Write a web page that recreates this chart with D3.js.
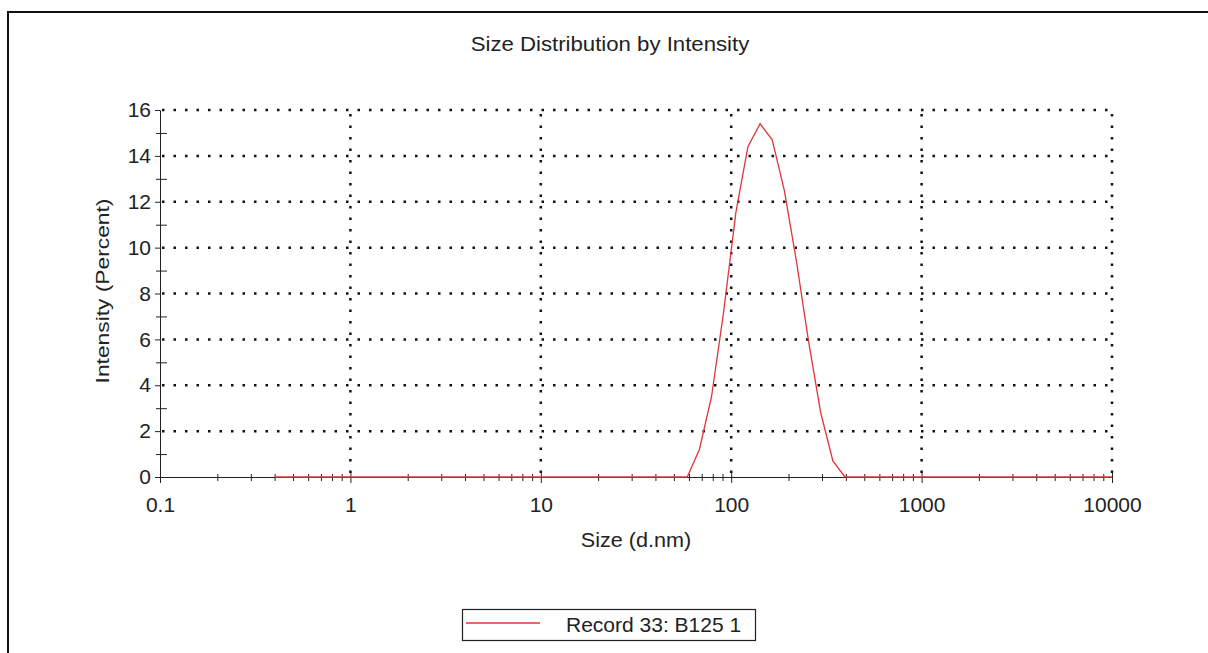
<!DOCTYPE html>
<html>
<head>
<meta charset="utf-8">
<script src="https://cdn.jsdelivr.net/npm/d3@7"></script>
<style>
body { margin: 0; background: #fff; }
text { font-family: "Liberation Sans", Arial, sans-serif; fill: #222; }
</style>
</head>
<body>
<svg id="chart" width="1208" height="653"></svg>
<script>
// size bins (d.nm) and intensity (%)
const sizes = [0.4, 0.4632, 0.5365, 0.6213, 0.7195, 0.8332, 0.9649, 1.117, 1.294, 1.499,
    1.736, 2.010, 2.328, 2.696, 3.122, 3.615, 4.187, 4.849, 5.615, 6.503,
    7.531, 8.721, 10.10, 11.70, 13.54, 15.69, 18.17, 21.04, 24.36, 28.21,
    32.67, 37.84, 43.82, 50.75, 58.77, 68.06, 78.82, 91.28, 105.7, 122.4,
    141.8, 164.2, 190.1, 220.2, 255.0, 295.3, 342.0, 396.1, 458.7, 531.2,
    615.1, 712.4, 825.0, 955.4, 1106, 1281, 1484, 1718, 1990, 2305,
    2669, 3091, 3580, 4145, 4801, 5560, 6439, 7456, 8635, 10000];
const intensity = [0, 0, 0, 0, 0, 0, 0, 0, 0, 0,
    0, 0, 0, 0, 0, 0, 0, 0, 0, 0,
    0, 0, 0, 0, 0, 0, 0, 0, 0, 0,
    0, 0, 0, 0, 0, 1.2, 3.5, 7.2, 11.5, 14.4,
    15.4, 14.7, 12.5, 9.4, 5.9, 2.8, 0.7, 0, 0, 0,
    0, 0, 0, 0, 0, 0, 0, 0, 0, 0,
    0, 0, 0, 0, 0, 0, 0, 0, 0, 0];

const xMajor = [0.1, 1, 10, 100, 1000, 10000];
const xLabels = ["0.1", "1", "10", "100", "1000", "10000"];
const yMajor = [0, 2, 4, 6, 8, 10, 12, 14, 16];
const yMinor = [1, 3, 5, 7, 9, 11, 13, 15];

const title = "Size Distribution by Intensity";
const xTitle = "Size (d.nm)";
const yTitle = "Intensity (Percent)";
const seriesName = "Record 33: B125 1";
const red = "#e0353a";

const svg = d3.select("#chart");

// outer frame, only top and left show
svg.append("rect")
    .attr("x", 8).attr("y", 12)
    .attr("width", 1400).attr("height", 800)
    .attr("fill", "none").attr("stroke", "#111").attr("stroke-width", 2);

const x = d3.scaleLog().domain([0.1, 10000]).range([160, 1112]);
const y = d3.scaleLinear().domain([0, 16]).range([477, 110]);

// grid
const grid = svg.append("g").attr("stroke", "#111").attr("stroke-width", 2.5)
    .attr("stroke-dasharray", "2.5,9");
grid.selectAll(".hg").data(yMajor.slice(1)).join("line")
    .attr("x1", x(0.1) + 2).attr("x2", x(10000))
    .attr("y1", d => y(d)).attr("y2", d => y(d));
grid.selectAll(".vg").data(xMajor.slice(1)).join("line")
    .attr("x1", d => x(d)).attr("x2", d => x(d))
    .attr("y1", y(0) - 4).attr("y2", y(16));

// x axis
const minorX = x.ticks().filter(d => !xMajor.some(m => Math.abs(m - d) / m < 1e-6));

const gxMinor = svg.append("g").attr("transform", `translate(0,${y(0)})`)
    .call(d3.axisBottom(x).tickValues(minorX).tickFormat("").tickSizeOuter(0));
gxMinor.select(".domain").remove();
gxMinor.selectAll(".tick line").attr("y1", -3).attr("y2", 4).attr("stroke", "#222");

const gx = svg.append("g").attr("transform", `translate(0,${y(0)})`)
    .call(d3.axisBottom(x).tickValues(xMajor)
        .tickFormat((d, i) => xLabels[i]).tickSizeOuter(0).tickPadding(14));
gx.select(".domain").attr("stroke", "#222");
gx.selectAll(".tick line").attr("y1", -5).attr("y2", 6).attr("stroke", "#222");
gx.selectAll(".tick text").attr("font-size", 21).attr("fill", "#222")
    .attr("font-family", "Liberation Sans, Arial, sans-serif");

// y axis
const gyMinor = svg.append("g").attr("transform", `translate(${x(0.1)},0)`)
    .call(d3.axisLeft(y).tickValues(yMinor).tickFormat("").tickSizeOuter(0));
gyMinor.select(".domain").remove();
gyMinor.selectAll(".tick line").attr("x1", -4).attr("x2", 7).attr("stroke", "#222");

const gy = svg.append("g").attr("transform", `translate(${x(0.1)},0)`)
    .call(d3.axisLeft(y).tickValues(yMajor).tickSizeOuter(0).tickSize(5).tickPadding(4));
gy.select(".domain").attr("stroke", "#222");
gy.selectAll(".tick line").attr("stroke", "#222");
gy.selectAll(".tick text").attr("font-size", 21).attr("fill", "#222")
    .attr("font-family", "Liberation Sans, Arial, sans-serif");

// series
const line = d3.line().x((d, i) => x(sizes[i])).y(d => y(d));
svg.append("path")
    .datum(intensity)
    .attr("fill", "none")
    .attr("stroke", red)
    .attr("stroke-width", 1.3)
    .attr("d", line);

// titles
svg.append("text")
    .attr("transform", "translate(610,51) scale(1.11,1)")
    .attr("text-anchor", "middle").attr("font-size", 20)
    .text(title);

svg.append("text")
    .attr("transform", "translate(636,547) scale(1.08,1)")
    .attr("text-anchor", "middle").attr("font-size", 20)
    .text(xTitle);

svg.append("text")
    .attr("transform", "translate(109,291) rotate(-90) scale(1.2,1)")
    .attr("text-anchor", "middle").attr("font-size", 19)
    .text(yTitle);

// legend
const lg = svg.append("g");
lg.append("rect")
    .attr("x", 462.5).attr("y", 609.5).attr("width", 293).attr("height", 31)
    .attr("fill", "#fff").attr("stroke", "#222").attr("stroke-width", 1.2);
lg.append("line")
    .attr("x1", 466).attr("x2", 540).attr("y1", 623).attr("y2", 623)
    .attr("stroke", red).attr("stroke-width", 1.3);
lg.append("text")
    .attr("x", 566).attr("y", 632)
    .attr("font-size", 21)
    .text(seriesName);
</script>
</body>
</html>
